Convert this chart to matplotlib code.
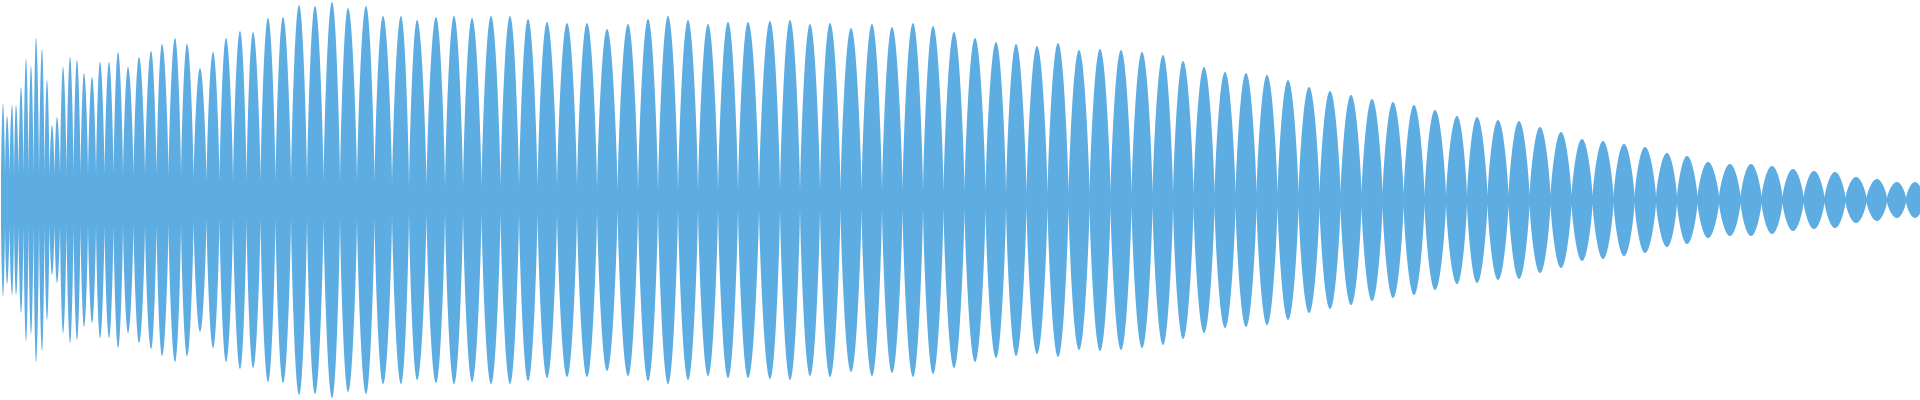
import numpy as np
import matplotlib
matplotlib.use('Agg')
import matplotlib.pyplot as plt

# centres of the beat lobes along the waveform (pixel columns of the reference)
lobe_pos = [3, 7, 12, 16, 21, 26, 31, 36, 42, 47, 52, 57, 63, 70, 77, 84, 92, 100,
            109, 118, 128, 139, 151, 162, 175, 187, 200, 213, 226, 240, 253, 268,
            283, 299, 315, 332, 348, 366, 383, 401, 417, 436, 454, 472, 491, 510,
            528, 547, 567, 587, 607, 628, 648, 668, 688, 708, 728, 748, 770, 790,
            810, 830, 851, 872, 892, 913, 933, 954, 975, 996, 1016, 1037, 1058,
            1079, 1100, 1121, 1142, 1163, 1183, 1204, 1225, 1246, 1267, 1288, 1309,
            1330, 1351, 1372, 1393, 1414, 1435, 1457, 1477, 1498, 1519, 1540, 1561,
            1582, 1603, 1624, 1645, 1667, 1687, 1708, 1730, 1751, 1772, 1793, 1814,
            1835, 1856, 1877, 1897, 1915]

# peak amplitude of each lobe (full scale = 200)
lobe_amp = [96, 84, 95, 95, 113, 141, 134, 162, 151, 120, 75, 83, 133, 143, 140, 127, 123, 138,
            138, 148, 133, 143, 149, 156, 162, 156, 132, 148, 162, 169, 168, 182,
            183, 195, 194, 198, 192, 194, 184, 184, 180, 183, 184, 182, 184, 184,
            181, 178, 177, 177, 171, 176, 181, 184, 180, 176, 178, 178, 179, 180,
            176, 177, 172, 176, 173, 177, 174, 168, 162, 158, 156, 154, 157,
            150, 151, 150, 148, 145, 139, 133, 128, 127, 125, 120, 113,
            109, 105, 101, 98, 95, 90, 84, 83, 80, 79, 73, 68,
            61, 59, 56, 53, 47, 44, 38, 36, 36, 34, 31, 29,
            28, 23, 21, 18, 18]

# half height of the band left between lobes, by stretch of the waveform
band_edges = [0, 200, 400, 600, 1000, 1400, 1600, 1800]
band_half = [24, 18, 13, 9, 6, 4, 3, 2]

color = '#5DADE2'
fullness = 0.75  # <1 makes the lobes rounder

pos = np.array(lobe_pos, dtype=float)
amp = np.array(lobe_amp, dtype=float)

xs, env = [], []
for i, (c, a_pk) in enumerate(zip(pos, amp)):
    left = (pos[i - 1] + c) / 2 if i > 0 else c - (pos[1] - pos[0]) / 2
    right = (c + pos[i + 1]) / 2 if i < len(pos) - 1 else c + (pos[-1] - pos[-2]) / 2
    floor = band_half[np.searchsorted(band_edges, c, side='right') - 1]
    floor = min(floor, a_pk)
    x = np.linspace(left, right, 80)
    theta = np.where(x < c, (x - c) / (c - left), (x - c) / (right - c)) * np.pi / 2
    e = floor + (a_pk - floor) * np.abs(np.cos(theta)) ** fullness
    xs.append(x)
    env.append(e)

xs = np.concatenate(xs)
env = np.concatenate(env)

fig = plt.figure(figsize=(19.2, 4), dpi=100)
ax = fig.add_axes([0, 0, 1, 1])
ax.fill_between(xs, -env, env, color=color, linewidth=0)
ax.set_xlim(0, 1920)
ax.set_ylim(-200, 200)
ax.axis('off')

fig.savefig('out.png', dpi=100, facecolor='white')
